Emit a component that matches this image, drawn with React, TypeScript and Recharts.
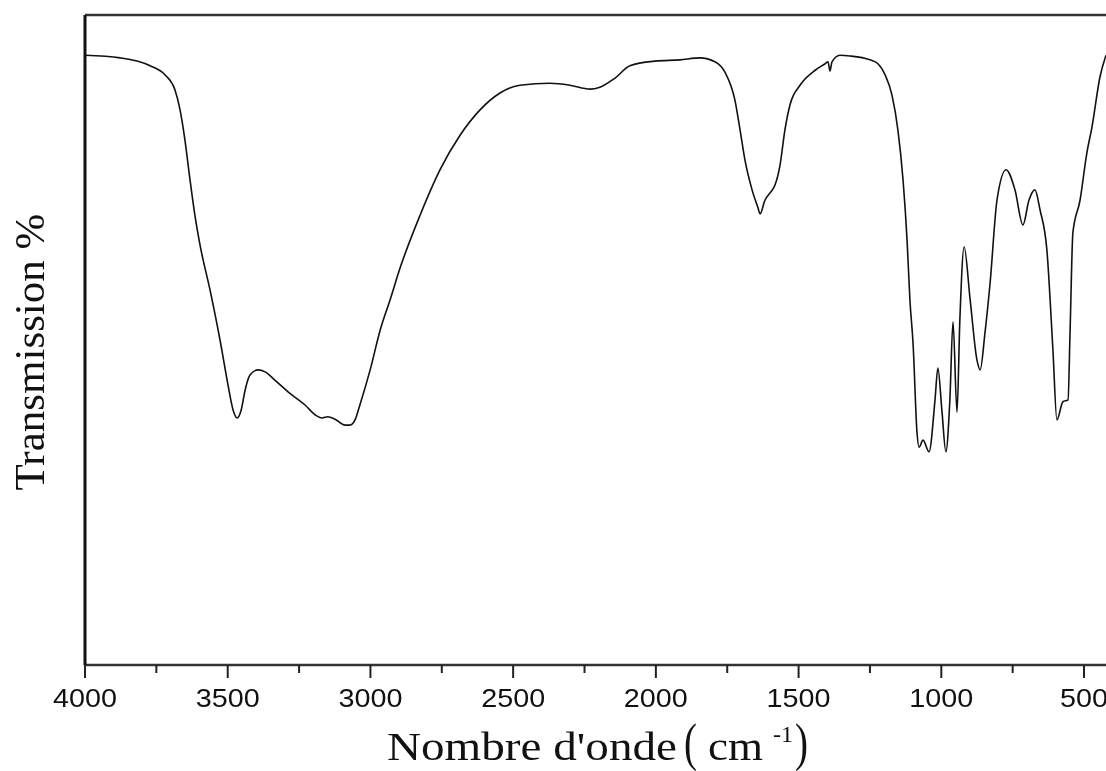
import React from 'react';
import { LineChart, Line, XAxis, YAxis, ReferenceLine } from 'recharts';

const WAVENUMBER = [
  4000, 3877, 3772, 3720, 3685, 3667, 3650, 3632, 3615, 3597,
  3562, 3527, 3499, 3481, 3467, 3453, 3439, 3422, 3394, 3369,
  3334, 3282, 3229, 3194, 3170, 3149, 3124, 3089, 3072, 3054,
  3037, 3001, 2966, 2931, 2896, 2826, 2756, 2686, 2616, 2546,
  2476, 2371, 2301, 2231, 2196, 2143, 2091, 2003, 1916, 1845,
  1793, 1758, 1723, 1705, 1688, 1663, 1642, 1635, 1618, 1597,
  1583, 1565, 1548, 1530, 1495, 1442, 1407, 1397, 1390, 1383,
  1355, 1320, 1250, 1222, 1197, 1173, 1152, 1134, 1120, 1110,
  1099, 1085, 1078, 1064, 1043, 1022, 1012, 998, 984, 970,
  959, 945, 935, 920, 899, 875, 864, 847, 829, 805,
  773, 742, 714, 693, 672, 654, 630, 609, 595, 574,
  556, 549, 539, 514, 490, 472, 444, 423,
];

const TRANSMISSION = [
  93.8, 93.4, 92.2, 90.8, 88.5, 85.4, 80.8, 74.6, 69.2, 64.6,
  57.7, 50.0, 43.1, 39.2, 38.0, 39.2, 42.3, 44.6, 45.4, 45.1,
  43.8, 41.8, 40.0, 38.5, 38.0, 38.2, 37.8, 36.9, 36.9, 37.7,
  40.0, 45.4, 51.5, 56.2, 61.1, 69.2, 76.2, 81.5, 85.4, 88.0,
  89.2, 89.5, 89.2, 88.6, 88.9, 90.3, 92.2, 92.9, 93.1, 93.4,
  92.8, 91.2, 86.9, 82.3, 77.7, 73.1, 70.3, 69.4, 71.5, 72.8,
  73.8, 76.9, 82.3, 86.2, 89.2, 91.5, 92.5, 92.8, 91.4, 92.8,
  93.8, 93.7, 93.1, 92.5, 90.8, 87.7, 82.3, 74.6, 65.4, 56.2,
  49.5, 35.7, 33.5, 34.6, 32.8, 40.8, 45.7, 39.2, 32.8, 40.8,
  52.8, 38.9, 53.1, 64.3, 56.2, 46.9, 45.4, 51.1, 58.8, 71.5,
  76.2, 73.1, 67.7, 71.5, 73.1, 70.0, 63.8, 48.5, 37.7, 40.5,
  40.8, 51.1, 66.5, 71.5, 78.8, 82.8, 90.5, 93.8,
];

const X_TICKS = [4000, 3750, 3500, 3250, 3000, 2750, 2500, 2250, 2000, 1750, 1500, 1250, 1000, 750, 500];
const MAJOR_TICKS = [4000, 3500, 3000, 2500, 2000, 1500, 1000, 500];
const X_DOMAIN = [423, 4000];
const Y_DOMAIN = [0, 100];

const X_TITLE_MAIN = "Nombre d'onde";
const X_TITLE_UNIT = 'cm';
const X_TITLE_SUP = '-1';
const Y_TITLE = 'Transmission %';

const data = WAVENUMBER.map((wn, i) => ({ wn, t: TRANSMISSION[i] }));

const W = 1106;
const H = 771;
const MARGIN = { top: 15, right: 0, bottom: 6, left: 0 };
const YAXIS_W = 85;
const XAXIS_H = 100;

const SERIF = "'Liberation Serif', 'Times New Roman', serif";
const SANS = "'Liberation Sans', Arial, sans-serif";

function XTick(props: any) {
  const { x, y, payload } = props;
  const v = payload.value;
  const major = MAJOR_TICKS.includes(v);
  const s = String(v);
  return (
    <g>
      <line x1={x} x2={x} y1={y} y2={y + (major ? 13 : 8)} stroke="#222" strokeWidth={2} />
      {major && (
        <text
          x={x}
          y={y + 42}
          textAnchor="middle"
          fontFamily={SANS}
          fontSize={25}
          fill="#111"
          textLength={s.length * 16}
          lengthAdjust="spacingAndGlyphs"
        >
          {s}
        </text>
      )}
    </g>
  );
}

function XTitle() {
  const base = 760;
  return (
    <g fill="#111" fontFamily={SERIF}>
      <text x={387} y={base} fontSize={39} textLength={290} lengthAdjust="spacingAndGlyphs">
        {X_TITLE_MAIN}
      </text>
      <text x={684} y={base} fontSize={52} textLength={13} lengthAdjust="spacingAndGlyphs">
        (
      </text>
      <text x={708} y={base} fontSize={39} textLength={55} lengthAdjust="spacingAndGlyphs">
        {X_TITLE_UNIT}
      </text>
      <text x={773} y={742} fontSize={24} textLength={20} lengthAdjust="spacingAndGlyphs">
        {X_TITLE_SUP}
      </text>
      <text x={795} y={base} fontSize={52} textLength={13} lengthAdjust="spacingAndGlyphs">
        )
      </text>
    </g>
  );
}

function YTitle() {
  return (
    <text
      x={44}
      y={352}
      transform="rotate(-90, 44, 352)"
      textAnchor="middle"
      fontFamily={SERIF}
      fontSize={43}
      fill="#111"
    >
      {Y_TITLE}
    </text>
  );
}

export default function App() {
  return (
    <div style={{ position: 'fixed', left: 0, top: 0, width: W, height: H }}>
      <LineChart width={W} height={H} data={data} margin={MARGIN}>
        <XAxis
          dataKey="wn"
          type="number"
          domain={X_DOMAIN}
          reversed
          allowDataOverflow
          ticks={X_TICKS}
          interval={0}
          height={XAXIS_H}
          tickSize={0}
          tickMargin={0}
          tickLine={false}
          tick={<XTick />}
          axisLine={{ stroke: '#333', strokeWidth: 2.5 }}
          label={{ content: () => <XTitle /> }}
        />
        <YAxis
          type="number"
          domain={Y_DOMAIN}
          width={YAXIS_W}
          tick={false}
          tickLine={false}
          axisLine={{ stroke: '#111', strokeWidth: 3 }}
          label={{ content: () => <YTitle /> }}
        />
        <ReferenceLine y={100} stroke="#333" strokeWidth={2.5} />
        <Line
          type="monotone"
          dataKey="t"
          stroke="#111"
          strokeWidth={1.6}
          dot={false}
          isAnimationActive={false}
        />
      </LineChart>
    </div>
  );
}
